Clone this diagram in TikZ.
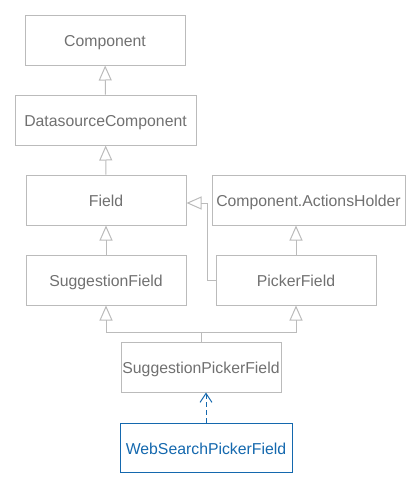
\documentclass[tikz,border=0pt]{standalone}
\usepackage{fontspec}
\setmainfont{Liberation Sans}
\usetikzlibrary{arrows.meta}
\definecolor{boxgray}{HTML}{BBBBBB}
\definecolor{txtgray}{HTML}{707070}
\definecolor{umlblue}{HTML}{1468AE}
\begin{document}
\begin{tikzpicture}[x=1pt,y=-1pt,
  cls/.style={draw=boxgray, line width=1pt, text=txtgray, minimum height=50pt, inner sep=0pt,
    text height=13.3pt, text depth=0pt, font=\fontsize{15.8}{18}\selectfont},
  hl/.style={cls, draw=umlblue, text=umlblue},
  inh/.style={draw=boxgray, line width=1pt, -{Triangle[open, length=15pt, width=13pt]}},
  realize/.style={draw=umlblue, line width=1pt, dash pattern=on 5pt off 3pt,
    -{Straight Barb[length=9pt, width=12pt, line width=1pt]}}]
\useasboundingbox (0,0) rectangle (420,488);
\node[cls, minimum width=160pt] (comp) at (105,40) {Component};
\node[cls, minimum width=181pt] (ds) at (105.5,120) {DatasourceComponent};
\node[cls, minimum width=160pt] (field) at (106,200) {Field};
\node[cls, minimum width=193pt] (ah) at (308.5,200) {Component.ActionsHolder};
\node[cls, minimum width=160pt] (sf) at (106,280) {SuggestionField};
\node[cls, minimum width=160pt] (pf) at (296,280) {PickerField};
\node[cls, minimum width=160pt] (spf) at (201,367) {SuggestionPickerField};
\node[hl, minimum width=172pt, minimum height=49pt] (ws) at (206,447.5) {WebSearchPickerField};
\coordinate (bus) at (201,332.5);
\coordinate (bend) at (207,203);
\draw[inh] (ds) -- (comp);
\draw[inh] (field) -- (ds);
\draw[inh] (sf) -- (field);
\draw[inh] (pf.north) -- (pf.north |- ah.south);
\draw[inh] (pf.west) -| (bend) -- (bend -| field.east);
\draw[inh] (spf.north) -- (bus) -| (sf.south);
\draw[inh] (bus) -| (pf.south);
\draw[realize] (ws.north) -- (ws.north |- spf.south);
\end{tikzpicture}
\end{document}
